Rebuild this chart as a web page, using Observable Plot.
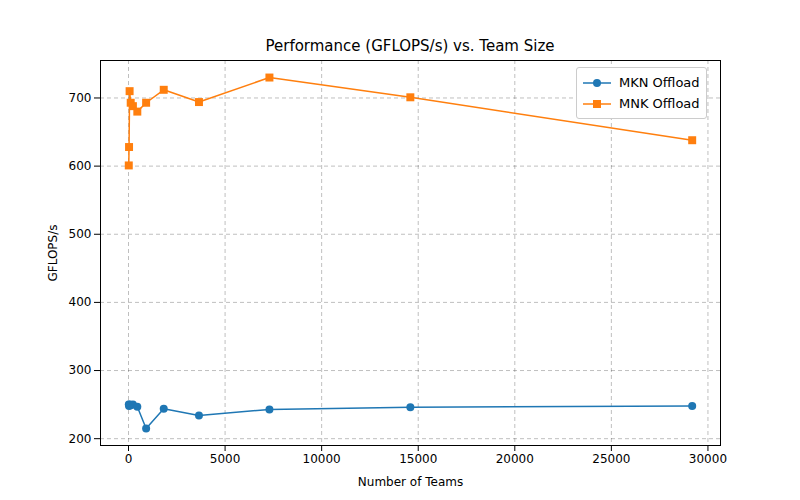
<!DOCTYPE html>
<html><head><meta charset="utf-8">
<script src="https://cdn.jsdelivr.net/npm/d3@7"></script>
<script src="https://cdn.jsdelivr.net/npm/@observablehq/plot@0.6"></script>
<style>body{margin:0;background:#fff;font-family:"DejaVu Sans",sans-serif}
#t{position:absolute;left:100px;width:620px;top:37px;text-align:center;font-size:15px}
#lg{position:absolute;left:576px;top:67px;border:1px solid #ccc;border-radius:3px;padding:4px 6px;font-size:13px;background:#fff}
#lg div{display:flex;align-items:center;height:21px}
#lg svg{margin-right:8px}</style></head>
<body><div id="t">Performance (GFLOPS/s) vs. Team Size</div><div id="c"></div>
<div id="lg"><div><svg width="28" height="10"><line x1="0" x2="28" y1="5" y2="5" stroke="#1f77b4" stroke-width="1.5"/><circle cx="14" cy="5" r="4" fill="#1f77b4"/></svg>MKN Offload</div>
<div><svg width="28" height="10"><line x1="0" x2="28" y1="5" y2="5" stroke="#ff7f0e" stroke-width="1.5"/><rect x="10" y="1" width="8" height="8" fill="#ff7f0e"/></svg>MNK Offload</div></div>
<script>
const teams=[14,28,57,114,228,456,912,1824,3648,7296,14592,29184];
const mkn=[250,248,250,249,250,247,215,244,234,243,246,248];
const mnk=[601,628,710,693,688,680,693,712,694,730,701,638];
const xticks=[0,5000,10000,15000,20000,25000,30000], yticks=[200,300,400,500,600,700];
const A=teams.map((x,i)=>({x,y:mkn[i]})), B=teams.map((x,i)=>({x,y:mnk[i]}));
const p=Plot.plot({width:800,height:500,marginLeft:100,marginRight:80,marginTop:60,marginBottom:55,
style:{fontSize:"12px",fontFamily:"DejaVu Sans"},
x:{domain:[-1450,30650]},
y:{domain:[190,755]},
marks:[Plot.gridX(xticks,{strokeDasharray:"4,3",strokeOpacity:0.25,stroke:"#000"}),Plot.gridY(yticks,{strokeDasharray:"4,3",strokeOpacity:0.25,stroke:"#000"}),
Plot.frame(),
Plot.axisX(xticks,{tickFormat:d=>String(d),label:"Number of Teams",labelAnchor:"center",labelArrow:"none",labelOffset:40,fontSize:12}),
Plot.axisY(yticks,{label:"GFLOPS/s",labelAnchor:"center",labelArrow:"none",labelOffset:52,fontSize:12}),
Plot.line(A,{x:"x",y:"y",stroke:"#1f77b4",strokeWidth:1.5}),
Plot.dot(A,{x:"x",y:"y",fill:"#1f77b4",r:4}),
Plot.line(B,{x:"x",y:"y",stroke:"#ff7f0e",strokeWidth:1.5}),
Plot.dot(B,{x:"x",y:"y",fill:"#ff7f0e",symbol:"square",r:4.5})]});
document.getElementById("c").append(p);
</script></body></html>
